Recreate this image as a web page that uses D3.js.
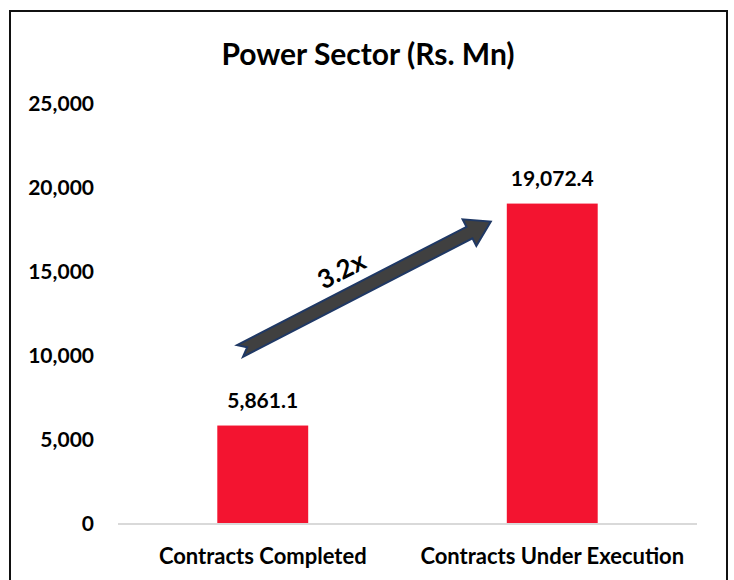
<!DOCTYPE html>
<html>
<head>
<meta charset="utf-8">
<script src="https://cdnjs.cloudflare.com/ajax/libs/d3/7.8.5/d3.min.js"></script>
<style>
  body { margin: 0; background: #fff; }
  text { font-family: Lato, "Open Sans", sans-serif; font-weight: bold; fill: #000; }
</style>
</head>
<body>
<script>
// chart data
var categories = ["Contracts Completed", "Contracts Under Execution"];
var values = [5861.1, 19072.4];
var yTicks = [0, 5000, 10000, 15000, 20000, 25000];
var growthLabel = "3.2x";

var width = 734, height = 580;
var margin = {top: 104, right: 37, bottom: 56, left: 118};

var svg = d3.select("body").append("svg")
    .attr("width", width)
    .attr("height", height);

// outer frame
svg.append("rect")
    .attr("x", 10).attr("y", 11)
    .attr("width", 717).attr("height", 620)
    .attr("fill", "none")
    .attr("stroke", "#111")
    .attr("stroke-width", 2);

var x = d3.scaleBand()
    .domain(categories)
    .range([margin.left, width - margin.right])
    .paddingInner(0.686)
    .paddingOuter(0.343);

var y = d3.scaleLinear()
    .domain([0, 25000])
    .range([height - margin.bottom, margin.top]);

// title
svg.append("text")
    .attr("x", 368).attr("y", 65)
    .attr("text-anchor", "middle")
    .style("font-size", "30px")
    .text("Power Sector (Rs. Mn)");

// y axis (labels only)
var yAxis = svg.append("g")
    .attr("transform", "translate(" + (margin.left - 24) + ",0)")
    .call(d3.axisLeft(y).tickValues(yTicks).tickSize(0).tickPadding(0).tickFormat(d3.format(",")));
yAxis.select(".domain").remove();
yAxis.selectAll("text")
    .style("font-family", "Lato, sans-serif")
    .style("font-weight", "bold")
    .style("font-size", "21px")
    .attr("fill", "#000");

// bars
svg.selectAll(".bar")
    .data(values)
  .enter().append("rect")
    .attr("class", "bar")
    .attr("x", function(d, i) { return x(categories[i]); })
    .attr("y", function(d) { return y(d); })
    .attr("width", x.bandwidth())
    .attr("height", function(d) { return y(0) - y(d); })
    .attr("fill", "#F31430");

// baseline
svg.append("line")
    .attr("x1", margin.left).attr("x2", width - margin.right)
    .attr("y1", y(0)).attr("y2", y(0))
    .attr("stroke", "#d9d9d9")
    .attr("stroke-width", 2);

// x axis labels
var xAxis = svg.append("g")
    .attr("transform", "translate(0," + y(0) + ")")
    .call(d3.axisBottom(x).tickSize(0).tickPadding(0));
xAxis.select(".domain").remove();
xAxis.selectAll("text")
    .attr("dy", null)
    .attr("y", 40)
    .style("font-family", "Lato, sans-serif")
    .style("font-weight", "bold")
    .style("font-size", "22px")
    .attr("fill", "#000");

// value labels
svg.selectAll(".val")
    .data(values)
  .enter().append("text")
    .attr("class", "val")
    .attr("x", function(d, i) { return x(categories[i]) + x.bandwidth() / 2; })
    .attr("y", function(d) { return y(d) - 18; })
    .attr("text-anchor", "middle")
    .style("font-size", "21px")
    .text(function(d) { return d3.format(",.1f")(d); });

// growth arrow from first bar to second
var x0 = x(categories[0]) + x.bandwidth() * 0.25, y0 = y(10300);
var x1 = x(categories[1]) - 16, y1 = y(18000);
var len = Math.sqrt((x1 - x0) * (x1 - x0) + (y1 - y0) * (y1 - y0));
var ang = Math.atan2(y1 - y0, x1 - x0) * 180 / Math.PI;
var sw = 6.5, hw = 15, hl = 24, notch = 8;
var arrow = svg.append("g")
    .attr("transform", "translate(" + x0 + "," + y0 + ") rotate(" + ang + ")");
arrow.append("path")
    .attr("d", "M0," + (-sw) + " L" + (len - hl) + "," + (-sw) + " L" + (len - hl) + "," + (-hw) +
               " L" + len + ",0 L" + (len - hl) + "," + hw + " L" + (len - hl) + "," + sw +
               " L0," + sw + " L" + notch + ",0 Z")
    .attr("fill", "#404040")
    .attr("stroke", "#1F3864")
    .attr("stroke-width", 2)
    .attr("stroke-linejoin", "miter");
arrow.append("text")
    .attr("x", len / 2 - 14)
    .attr("y", -16)
    .attr("text-anchor", "middle")
    .style("font-size", "26px")
    .text(growthLabel);
</script>
</body>
</html>
